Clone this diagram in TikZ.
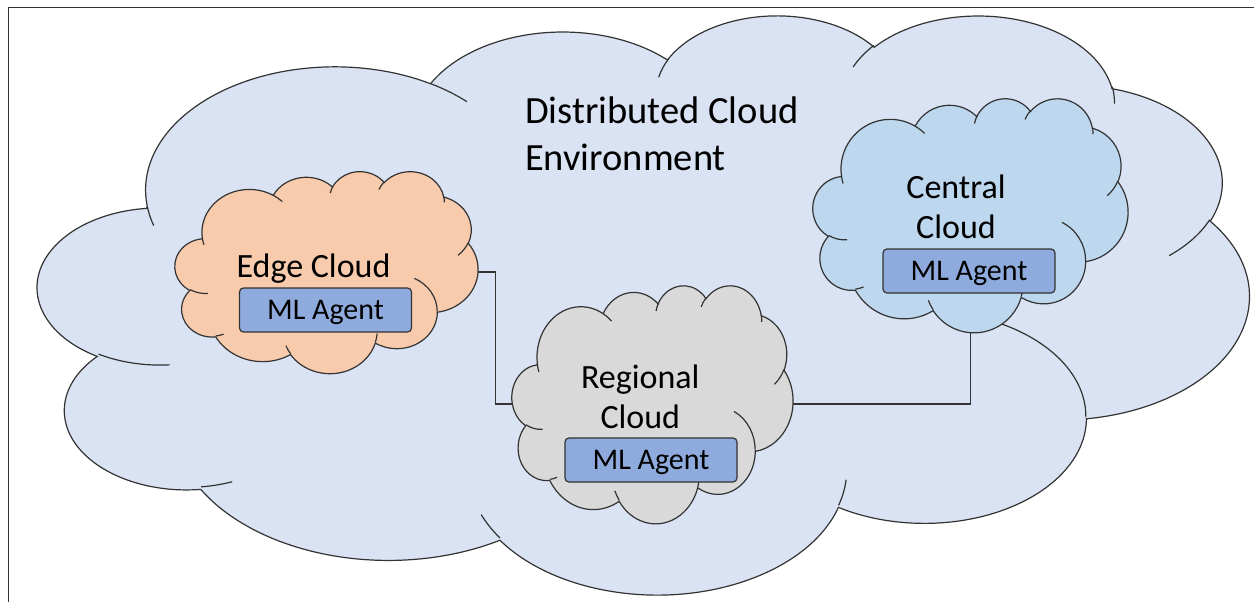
\documentclass[tikz,border=0pt]{standalone}
\usepackage{fontspec}
\setmainfont{Carlito}
\usetikzlibrary{calc}

\definecolor{envfill}{HTML}{DAE3F3}
\definecolor{edgefill}{HTML}{F8CBAD}
\definecolor{regionfill}{HTML}{D9D9D9}
\definecolor{centralfill}{HTML}{BDD7EE}
\definecolor{agentfill}{HTML}{8FAADC}
\definecolor{inkline}{HTML}{333333}

% Office-style cloud outline in a 43.2 x 43.2 box (y pointing down).
% Arc angles are given as visual angles and turned into parametric ones.
\newcommand\cloudparam[3]{%
  \pgfmathsetmacro\cloudang{(#3)+atan(((#1)-(#2))*sin(#3)*cos(#3)/((#2)*cos(#3)*cos(#3)+(#1)*sin(#3)*sin(#3)))}}
\newcommand\cloudarcdef[5]{%
  \cloudparam{#2}{#3}{#4}\let\cloudS\cloudang
  \cloudparam{#2}{#3}{(#4)+(#5)}\let\cloudE\cloudang
  \xdef#1{arc[start angle=\cloudS, end angle=\cloudE, x radius=#2pt, y radius=#3pt]}}

% outline lobes
\cloudarcdef\cloA{6.753}{9.190}{-190.48748}{123.78053}
\cloudarcdef\cloB{5.333}{7.267}{-144.10238}{89.94523}
\cloudarcdef\cloC{4.365}{5.945}{-145.80792}{99.72302}
\cloudarcdef\cloD{4.857}{6.595}{-130.98607}{117.24173}
\cloudarcdef\cloE{5.333}{7.273}{-78.70888}{109.02692}
\cloudarcdef\cloF{6.775}{9.220}{-46.26725}{130.26900}
\cloudarcdef\cloG{5.785}{7.867}{0.62502}{114.03333}
\cloudarcdef\cloH{6.752}{9.215}{22.45160}{115.17255}
\cloudarcdef\cloI{7.720}{10.543}{66.24263}{75.71102}
\cloudarcdef\cloJ{4.360}{5.918}{-274.94208}{146.73557}
\cloudarcdef\cloK{4.345}{5.945}{-246.82850}{152.51885}
% inner tails between lobes
\cloudarcdef\tlA{4.345}{5.945}{86.74200}{26.42950}
\cloudarcdef\tlB{4.360}{5.918}{73.61047}{11.44747}
\cloudarcdef\tlC{6.752}{9.215}{137.62415}{14.08110}
\cloudarcdef\tlD{6.752}{9.215}{6.45327}{15.99835}
\cloudarcdef\tlE{5.785}{7.867}{-70.29235}{70.91737}
\cloudarcdef\tlF{5.333}{7.273}{30.31803}{27.75150}
\cloudarcdef\tlG{4.857}{6.595}{-13.74433}{14.85890}
\cloudarcdef\tlH{4.857}{6.595}{-149.18145}{18.19537}
\cloudarcdef\tlI{4.365}{5.945}{-163.49427}{17.68635}
\cloudarcdef\tlJ{6.753}{9.190}{-66.70695}{12.31935}
\cloudarcdef\tlK{6.753}{9.190}{157.65435}{11.85817}

\xdef\cloudoutline{(3.9,14.37) \cloA\cloB\cloC\cloD\cloE\cloF\cloG\cloH\cloI\cloJ\cloK -- cycle}
\xdef\cloudtails{(4.693,26.177) \tlA (6.928,34.899) \tlB (16.478,39.090) \tlC
  (28.827,34.751) \tlD (34.129,22.954) \tlE (41.798,15.354) \tlF (38.324,5.426) \tlG
  (29.078,3.952) \tlH (22.141,4.720) \tlI (14.000,5.192) \tlJ (4.127,15.789) \tlK}

\tikzset{
  cloud edge/.style={draw=inkline, line width=1.2pt},
  link/.style={draw=inkline, line width=1.2pt},
  frame/.style={draw=black!80, line width=1.2pt},
  agent/.style={draw=inkline, line width=1.2pt, fill=agentfill, rounded corners=4pt,
    minimum width=172pt, minimum height=44pt, inner sep=0pt,
    font=\fontsize{30}{36}\selectfont, text height=19.3pt, text depth=0pt},
  cloud label/.style={font=\fontsize{34}{40}\selectfont, align=center, inner sep=0pt},
  title label/.style={font=\fontsize{38.5}{47.4}\selectfont, align=left, inner sep=0pt}
}

% #1 name, #2/#3 top-left corner, #4 width, #5 height, #6 fill colour
\newcommand\officecloud[6]{%
  \begin{scope}[shift={(#2,#3)}, xscale=#4/43.2, yscale=#5/43.2]
    \path[cloud edge, fill=#6] \cloudoutline;
    \path[cloud edge] \cloudtails;
    \coordinate (#1-west) at (0.134,21.6);
    \coordinate (#1-east) at (43.164,21.6);
    \coordinate (#1-south) at (21.6,43.154);
  \end{scope}}

\begin{document}
\begin{tikzpicture}[x=1pt, y=1pt, yscale=-1]
\useasboundingbox (0,0) rectangle (1254,602);
\draw[frame] (1254,7.5) -- (8.5,7.5) -- (8.5,602);

\officecloud{env}{38}{14}{1211}{579}{envfill}
% multi-line labels are anchored at the baseline of their last line
\node[title label, anchor=base west] (title) at (525,170.7) {Distributed Cloud\\Environment};

\officecloud{edge}{175}{171}{303}{202}{edgefill}
\officecloud{reg}{512}{285}{281}{238}{regionfill}
\officecloud{cen}{813}{98}{315}{234}{centralfill}

\draw[link] (edge-east) -| ($(edge-east)!.5!(reg-west)$) |- (reg-west);
\draw[link] (reg-east) -| (cen-south);

\node[cloud label, anchor=base] (edge-name) at (313.5,277) {Edge Cloud};
\node[cloud label, anchor=base] (reg-name) at (640.3,428.3) {Regional\\Cloud};
\node[cloud label, anchor=base] (cen-name) at (956,238.3) {Central\\Cloud};

\node[agent] (edge-agent) at (325.5,310) {ML Agent};
\node[agent] (reg-agent) at (651,460) {ML Agent};
\node[agent] (cen-agent) at (969,271) {ML Agent};
\end{tikzpicture}
\end{document}
